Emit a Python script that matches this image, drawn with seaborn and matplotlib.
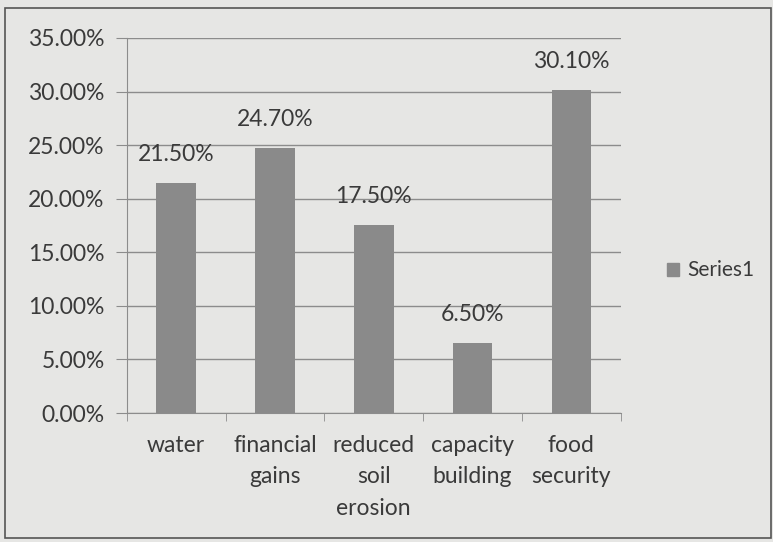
import matplotlib
matplotlib.use("Agg")
import matplotlib.pyplot as plt
import seaborn as sns
import pandas as pd
from matplotlib.patches import Patch
from matplotlib.ticker import FixedLocator

categories = ["water", "financial\ngains", "reduced\nsoil\nerosion", "capacity\nbuilding", "food\nsecurity"]
values = [21.5, 24.7, 17.5, 6.5, 30.1]
series_name = "Series1"

df = pd.DataFrame({"cat": categories, "val": values})

sns.set_style("white")
plt.rcParams["font.family"] = ["Lato", "DejaVu Sans"]

bg = "#e6e6e4"
bar_col = "#8a8a8a"
txt = "#3a3a3a"
fs = 16.5

fig = plt.figure(figsize=(7.73, 5.42), dpi=100, facecolor=bg)
ax = fig.add_axes([0.164, 0.238, 0.639, 0.692])
ax.set_facecolor(bg)

sns.barplot(data=df, x="cat", y="val", color=bar_col, width=0.4, saturation=1,
            edgecolor="none", linewidth=0, ax=ax)

ax.set_ylim(0, 35)
ax.set_xlim(-0.5, len(categories) - 0.5)
ax.set_yticks([0, 5, 10, 15, 20, 25, 30, 35])
ax.set_yticklabels([f"{v:.2f}%" for v in [0, 5, 10, 15, 20, 25, 30, 35]], fontsize=fs, color=txt)
ax.set_xticklabels(categories, fontsize=fs, color=txt, linespacing=1.6)
ax.grid(axis="y", color="#8c8c8c", linewidth=1)
ax.set_axisbelow(True)
ax.set_xlabel("")
ax.set_ylabel("")

for s in ["top", "right"]:
    ax.spines[s].set_visible(False)
ax.spines["left"].set_color("#8c8c8c")
ax.spines["bottom"].set_color("#8c8c8c")

ax.tick_params(axis="y", length=8, color="#8c8c8c", pad=8, left=True)
ax.tick_params(axis="x", length=0, pad=16)
ax.xaxis.set_minor_locator(FixedLocator([i - 0.5 for i in range(len(categories) + 1)]))
ax.tick_params(axis="x", which="minor", length=6, color="#8c8c8c", bottom=True)

for i, v in enumerate(values):
    ax.annotate(f"{v:.2f}%", (i, v), xytext=(0, 13), textcoords="offset points",
                ha="center", va="bottom", fontsize=fs, color=txt)

ax.legend(handles=[Patch(color=bar_col, label=series_name)], loc="center left",
          bbox_to_anchor=(1.055, 0.38), frameon=False, fontsize=15, labelcolor=txt,
          handlelength=0.6, handleheight=0.6, handletextpad=0.4)

fig.patches.append(plt.Rectangle((0.007, 0.007), 0.99, 0.978, transform=fig.transFigure,
                                 fill=False, edgecolor="#555555", linewidth=1.2))

fig.savefig("out.png", dpi=100, facecolor=bg)
